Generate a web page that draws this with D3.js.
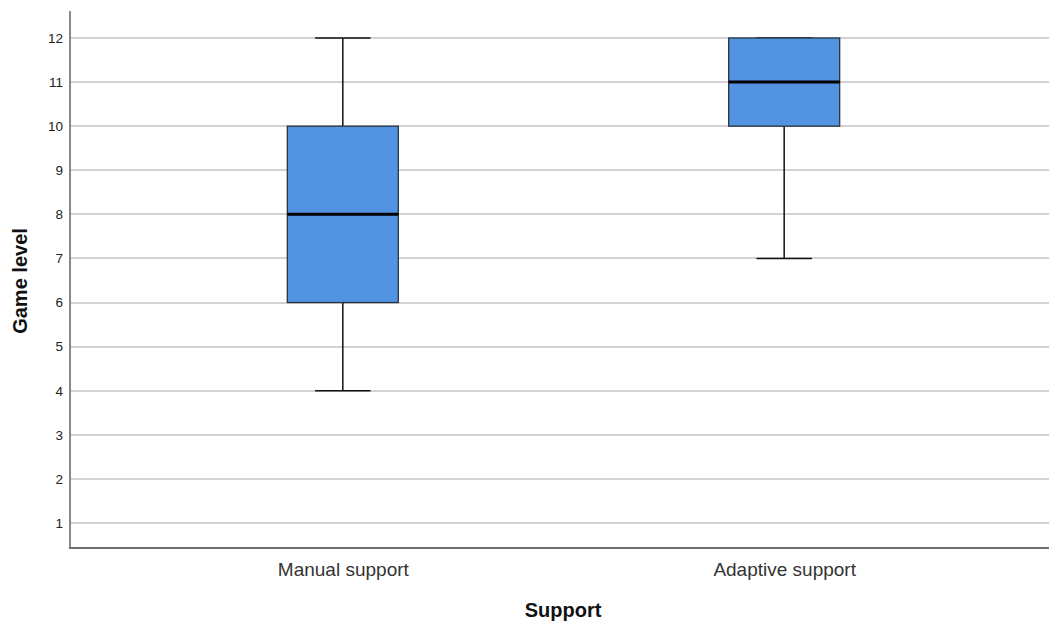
<!DOCTYPE html>
<html><head><meta charset="utf-8">
<script src="https://cdn.jsdelivr.net/npm/d3@7"></script>
<style>body{margin:0;background:#fff}svg{display:block}text{font-family:Arial,"Liberation Sans",sans-serif}</style>
</head><body>
<svg id="c" width="1049" height="623"></svg>
<script>
const categories = ["Manual support", "Adaptive support"];
const mins = [4, 7];
const q1s = [6, 10];
const medians = [8, 11];
const q3s = [10, 12];
const maxs = [12, 12];
const yTicks = [1,2,3,4,5,6,7,8,9,10,11,12];

(function(){
const svg = d3.select("#c");
const pL = 70, pR = 1049, pT = 11, pB = 548;
const y = d3.scaleLinear().domain([0.433, 12.612]).range([pB, pT]);
const x = d3.scalePoint().domain(categories).range([78, 1049]).padding(0.6);
const boxW = 111;

// gridlines
svg.append("g").selectAll("line").data(yTicks).join("line")
  .attr("x1", pL).attr("x2", pR)
  .attr("y1", d => Math.round(y(d))).attr("y2", d => Math.round(y(d)))
  .attr("stroke", "#d2d2d2").attr("stroke-width", 2);

// y axis
const yAxis = d3.axisLeft(y).tickValues(yTicks).tickSize(0).tickPadding(7);
const ya = svg.append("g").attr("transform", `translate(${pL},0)`).call(yAxis);
ya.select(".domain").remove();
ya.selectAll("text").attr("font-size", 13.5).attr("fill", "#222");

// axis lines
svg.append("line").attr("x1", pL).attr("x2", pL).attr("y1", pT).attr("y2", pB)
  .attr("stroke", "#8a8a8a").attr("stroke-width", 2);
svg.append("line").attr("x1", pL - 1).attr("x2", pR).attr("y1", pB).attr("y2", pB)
  .attr("stroke", "#6e6e6e").attr("stroke-width", 2);

// x axis labels
const xAxis = d3.axisBottom(x).tickSize(0).tickPadding(15);
const xa = svg.append("g").attr("transform", `translate(0,${pB})`).call(xAxis);
xa.select(".domain").remove();
xa.selectAll("text").attr("font-size", 19).attr("fill", "#333");

// boxes
const g = svg.append("g");
categories.forEach((c, i) => {
  const cx = x(c);
  g.append("line").attr("x1", cx).attr("x2", cx).attr("y1", y(q3s[i])).attr("y2", y(maxs[i]))
    .attr("stroke", "#111").attr("stroke-width", 1.5);
  g.append("line").attr("x1", cx).attr("x2", cx).attr("y1", y(q1s[i])).attr("y2", y(mins[i]))
    .attr("stroke", "#111").attr("stroke-width", 1.5);
  [mins[i], maxs[i]].forEach(v => {
    g.append("line").attr("x1", cx - boxW/4).attr("x2", cx + boxW/4)
      .attr("y1", y(v)).attr("y2", y(v)).attr("stroke", "#111").attr("stroke-width", 1.5);
  });
  g.append("rect").attr("x", cx - boxW/2).attr("width", boxW)
    .attr("y", y(q3s[i])).attr("height", y(q1s[i]) - y(q3s[i]))
    .attr("fill", "#5294e2").attr("stroke", "#2b3340").attr("stroke-width", 1.3);
  g.append("line").attr("x1", cx - boxW/2).attr("x2", cx + boxW/2)
    .attr("y1", y(medians[i])).attr("y2", y(medians[i]))
    .attr("stroke", "#000").attr("stroke-width", 3);
});

// axis titles
svg.append("text").attr("x", 563).attr("y", 617).attr("text-anchor", "middle")
  .attr("font-size", 20).attr("font-weight", "bold").attr("fill", "#111").text("Support");
svg.append("text").attr("transform", `translate(27,${281}) rotate(-90)`)
  .attr("text-anchor", "middle").attr("font-size", 20).attr("font-weight", "bold").attr("fill", "#111").text("Game level");
})();
</script>
</body></html>
